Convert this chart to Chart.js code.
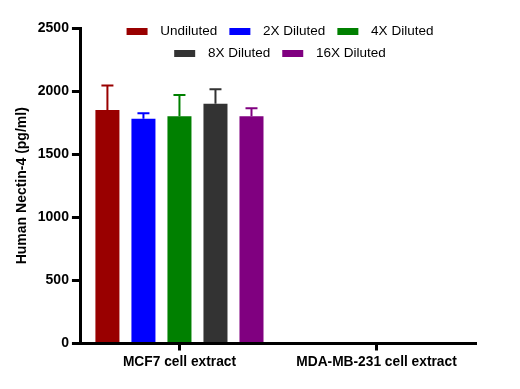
<!DOCTYPE html>
<html>
<head>
<meta charset="utf-8">
<script src="https://cdn.jsdelivr.net/npm/chart.js@4.4.0/dist/chart.umd.min.js"></script>
<style>
  html, body { margin: 0; padding: 0; background: #fff; }
  #wrap { width: 520px; height: 389px; }
</style>
</head>
<body>
<div id="wrap"><canvas id="nectinChart"></canvas></div>
<script>
// Datos
const categories = ['MCF7 cell extract', 'MDA-MB-231 cell extract'];
const seriesNames = ['Undiluted', '2X Diluted', '4X Diluted', '8X Diluted', '16X Diluted'];
const seriesColors = ['#990000', '#0000ff', '#008000', '#333333', '#800080'];

const undiluted = [1850, null];
const diluted2x = [1780, null];
const diluted4x = [1800, null];
const diluted8x = [1900, null];
const diluted16x = [1800, null];

// barras de error (solo hacia arriba)
const errUndiluted = [195, null];
const err2x = [45, null];
const err4x = [170, null];
const err8x = [115, null];
const err16x = [65, null];

const yTicks = [0, 500, 1000, 1500, 2000, 2500];

const seriesValues = [undiluted, diluted2x, diluted4x, diluted8x, diluted16x];
const seriesErrors = [errUndiluted, err2x, err4x, err8x, err16x];

Chart.defaults.font.family = "'Liberation Sans', Arial, sans-serif";
Chart.defaults.color = '#000';

// muestra de leyenda: rectángulo con un poco de aire a cada lado
function swatch(color) {
    const c = document.createElement('canvas');
    c.width = 31;
    c.height = 7;
    const g = c.getContext('2d');
    g.fillStyle = color;
    g.fillRect(4, 0, 21, 7);
    return c;
}
const swatches = seriesColors.map(swatch);

// la leyenda se dibuja encima del área del gráfico, como en la figura
const legendOverlap = {
    id: 'legendOverlap',
    beforeUpdate(chart) {
        const legend = chart.legend;
        if (!legend || legend._overlapPatched) return;
        const fit = legend.fit;
        legend.fit = function () {
            fit.call(this);
            this.height = 11;
        };
        const draw = legend.draw;
        legend.draw = function () {
            const bottom = this.bottom;
            this.bottom = this.top + 60;
            draw.call(this);
            this.bottom = bottom;
        };
        legend._overlapPatched = true;
    }
};

const errorBars = {
    id: 'errorBars',
    afterDatasetsDraw(chart) {
        const ctx = chart.ctx;
        const yScale = chart.scales.y;
        chart.data.datasets.forEach((ds, i) => {
            const meta = chart.getDatasetMeta(i);
            meta.data.forEach((bar, j) => {
                const v = seriesValues[i][j];
                const e = seriesErrors[i][j];
                if (v == null || e == null) return;
                const yTop = yScale.getPixelForValue(v + e);
                ctx.save();
                ctx.strokeStyle = seriesColors[i];
                ctx.lineWidth = 2;
                ctx.beginPath();
                ctx.moveTo(bar.x, bar.y);
                ctx.lineTo(bar.x, yTop);
                ctx.moveTo(bar.x - 6, yTop);
                ctx.lineTo(bar.x + 6, yTop);
                ctx.stroke();
                ctx.restore();
            });
        });
    }
};

const ctx = document.getElementById('nectinChart').getContext('2d');
new Chart(ctx, {
    type: 'bar',
    data: {
        labels: categories,
        datasets: seriesNames.map((name, i) => ({
            label: name,
            data: seriesValues[i],
            backgroundColor: seriesColors[i],
            borderWidth: 0,
            categoryPercentage: 0.914,
            barPercentage: 0.667
        }))
    },
    options: {
        responsive: true,
        maintainAspectRatio: false,
        animation: false,
        events: [],
        layout: {
            padding: { left: 10, right: 45, top: 17, bottom: 16 }
        },
        scales: {
            x: {
                grid: {
                    offset: false,
                    drawOnChartArea: false,
                    tickLength: 7,
                    lineWidth: 3,
                    color: '#000'
                },
                border: { display: true, color: '#000', width: 3 },
                ticks: {
                    autoSkip: false,
                    maxRotation: 0,
                    padding: 3,
                    color: '#000',
                    font: { size: 13.75, weight: 'bold' }
                }
            },
            y: {
                min: 0,
                max: 2500,
                afterBuildTicks: axis => {
                    axis.ticks = yTicks.map(v => ({ value: v }));
                },
                grid: {
                    drawOnChartArea: false,
                    tickLength: 9,
                    lineWidth: 3,
                    color: '#000'
                },
                border: { display: true, color: '#000', width: 3 },
                ticks: {
                    padding: 3,
                    color: '#000',
                    font: { size: 14, weight: 'bold' },
                    callback: v => String(v)
                },
                title: {
                    display: true,
                    text: 'Human Nectin-4 (pg/ml)',
                    color: '#000',
                    padding: { top: 4, bottom: 4 },
                    font: { size: 14, weight: 'bold' }
                }
            }
        },
        plugins: {
            tooltip: { enabled: false },
            legend: {
                position: 'top',
                fullSize: false,
                labels: {
                    usePointStyle: true,
                    pointStyleWidth: 31,
                    boxHeight: 7,
                    padding: 8,
                    color: '#000',
                    font: { size: 13.5 },
                    generateLabels: chart => {
                        const items = Chart.defaults.plugins.legend.labels.generateLabels(chart);
                        items.forEach((it, i) => { it.pointStyle = swatches[i]; });
                        return items;
                    }
                }
            }
        }
    },
    plugins: [legendOverlap, errorBars]
});
</script>
</body>
</html>
